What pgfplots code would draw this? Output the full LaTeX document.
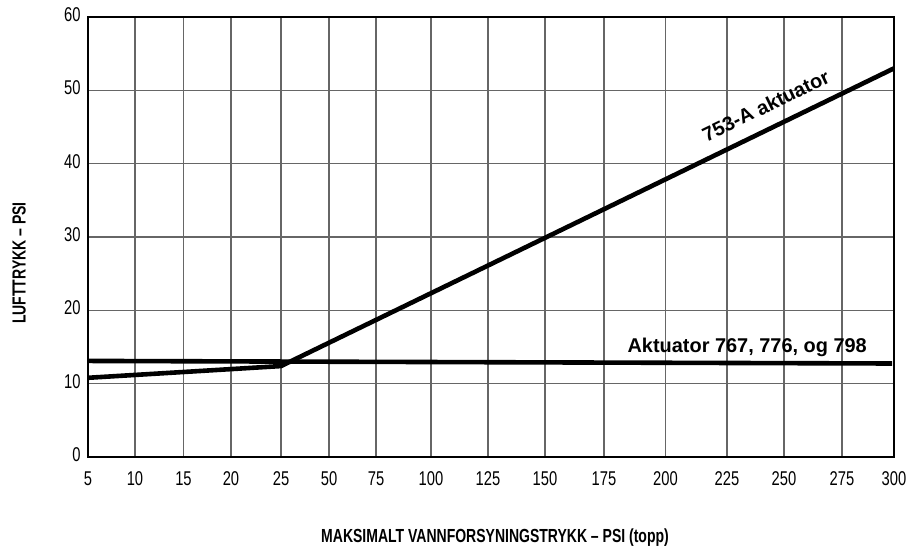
\documentclass[border=0pt]{standalone}
\usepackage{fontspec}
\setmainfont{Liberation Sans}[FakeStretch=0.74]
\newfontfamily\annfont{Liberation Sans}
\usepackage{pgfplots}
\pgfplotsset{compat=1.18}

\begin{document}
\begin{tikzpicture}
\begin{axis}[
    scale only axis,
    width=806bp, height=440bp,
    xmin=0, xmax=806, ymin=0, ymax=60,
    % tick positions follow the drawn (uneven) grid of the original
    xtick={0,47,95.5,143,193,241,288,343,400,457,516,577.5,639,696,754,806},
    xticklabels={5,10,15,20,25,50,75,100,125,150,175,200,225,250,275,300},
    ytick={0,10,...,60},
    grid=major,
    grid style={line width=1.1bp, black!60},
    axis line style={line width=1.8bp},
    major tick length=0pt,
    /pgf/number format/assume math mode=true,
    tick label style={font=\fontsize{20}{22}\selectfont},
    typeset ticklabels with strut,
    xticklabel style={yshift=-10bp},
    yticklabel style={xshift=-4bp},
    xlabel={MAKSIMALT VANNFORSYNINGSTRYKK – PSI (topp)},
    ylabel={LUFTTRYKK – PSI},
    label style={font=\fontsize{19}{21}\selectfont\bfseries},
    xlabel style={at={(axis description cs:0.505,-0.184)}, anchor=center},
    ylabel style={at={(axis description cs:-0.0856,0.441)}, anchor=center},
]

\addplot[line width=4.6bp, black] coordinates {
  (0,13.1) (804,12.75)
};

\addplot[line width=4.6bp, black] coordinates {
  (0,10.8) (193,12.4) (806,53.0)
};

\node[font=\annfont\bfseries\fontsize{20}{22}\selectfont, rotate=25.9,
      anchor=south, inner sep=0pt]
  at (axis cs:681,47.0) {753-A aktuator};
\node[font=\annfont\bfseries\fontsize{20}{22}\selectfont, anchor=base east, inner sep=0pt]
  at (axis cs:779,14.3) {Aktuator 767, 776, og 798};

\end{axis}
\pgfresetboundingbox
\path (-88bp,-92bp) rectangle (818bp,457bp);
\end{tikzpicture}
\end{document}
